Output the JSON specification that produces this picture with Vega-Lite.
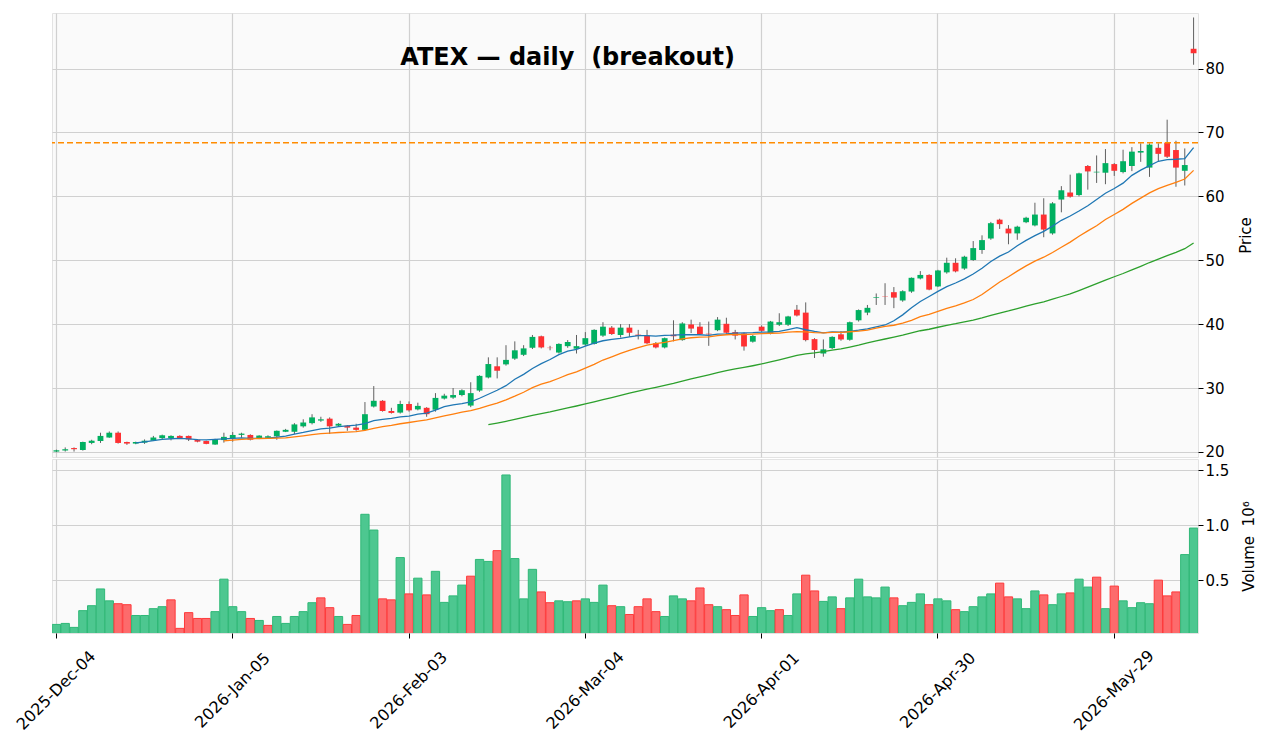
{
  "$schema": "https://vega.github.io/schema/vega-lite/v6.json",
  "padding": {"left": 13, "top": 12, "right": 4, "bottom": 4},
  "background": "white",
  "bounds": "flush",
  "data": {"values": [
    {"d":"2025-Dec-04","o":20.05,"h":20.35,"l":19.95,"c":20.25,"v":98000},
    {"d":"2025-Dec-05","o":20.2,"h":20.7,"l":20.05,"c":20.4,"v":107000},
    {"d":"2025-Dec-08","o":20.6,"h":20.7,"l":20.05,"c":20.42,"v":71000},
    {"d":"2025-Dec-09","o":20.3,"h":21.6,"l":20.2,"c":21.55,"v":223000},
    {"d":"2025-Dec-10","o":21.4,"h":21.9,"l":21.2,"c":21.75,"v":268000},
    {"d":"2025-Dec-11","o":21.7,"h":23.0,"l":21.4,"c":22.5,"v":420000},
    {"d":"2025-Dec-12","o":22.25,"h":23.2,"l":22.2,"c":23.0,"v":312000},
    {"d":"2025-Dec-15","o":23.0,"h":23.2,"l":21.3,"c":21.4,"v":286000},
    {"d":"2025-Dec-16","o":21.55,"h":21.6,"l":21.1,"c":21.3,"v":277000},
    {"d":"2025-Dec-17","o":21.3,"h":21.6,"l":21.2,"c":21.55,"v":179000},
    {"d":"2025-Dec-18","o":21.45,"h":21.95,"l":21.25,"c":21.75,"v":179000},
    {"d":"2025-Dec-19","o":21.75,"h":22.5,"l":21.7,"c":22.25,"v":241000},
    {"d":"2025-Dec-22","o":22.15,"h":22.7,"l":21.9,"c":22.6,"v":259000},
    {"d":"2025-Dec-23","o":22.15,"h":22.6,"l":21.8,"c":22.5,"v":321000},
    {"d":"2025-Dec-24","o":22.5,"h":22.6,"l":22.1,"c":22.15,"v":62000},
    {"d":"2025-Dec-26","o":22.5,"h":22.55,"l":21.7,"c":21.95,"v":205000},
    {"d":"2025-Dec-29","o":21.9,"h":22.0,"l":21.5,"c":21.6,"v":152000},
    {"d":"2025-Dec-30","o":21.7,"h":21.75,"l":21.2,"c":21.25,"v":152000},
    {"d":"2025-Dec-31","o":21.15,"h":22.05,"l":21.1,"c":22.0,"v":214000},
    {"d":"2026-Jan-02","o":21.85,"h":23.0,"l":21.45,"c":22.35,"v":509000},
    {"d":"2026-Jan-05","o":22.1,"h":23.1,"l":21.6,"c":22.65,"v":259000},
    {"d":"2026-Jan-06","o":22.66,"h":23.0,"l":22.2,"c":22.86,"v":214000},
    {"d":"2026-Jan-07","o":22.65,"h":22.75,"l":21.8,"c":21.9,"v":152000},
    {"d":"2026-Jan-08","o":22.15,"h":22.6,"l":22.0,"c":22.55,"v":134000},
    {"d":"2026-Jan-09","o":22.2,"h":22.6,"l":22.1,"c":22.45,"v":89000},
    {"d":"2026-Jan-12","o":22.45,"h":23.35,"l":21.9,"c":23.3,"v":170000},
    {"d":"2026-Jan-13","o":23.15,"h":23.6,"l":23.1,"c":23.45,"v":107000},
    {"d":"2026-Jan-14","o":23.15,"h":24.5,"l":22.8,"c":24.3,"v":170000},
    {"d":"2026-Jan-15","o":24.0,"h":25.1,"l":23.8,"c":24.6,"v":214000},
    {"d":"2026-Jan-16","o":24.5,"h":25.9,"l":24.3,"c":25.4,"v":295000},
    {"d":"2026-Jan-20","o":24.9,"h":25.5,"l":24.7,"c":25.1,"v":339000},
    {"d":"2026-Jan-21","o":25.2,"h":25.4,"l":22.8,"c":24.0,"v":250000},
    {"d":"2026-Jan-22","o":24.1,"h":24.5,"l":23.9,"c":24.4,"v":170000},
    {"d":"2026-Jan-23","o":24.1,"h":24.2,"l":23.3,"c":23.8,"v":98000},
    {"d":"2026-Jan-26","o":23.8,"h":24.4,"l":23.3,"c":23.45,"v":179000},
    {"d":"2026-Jan-27","o":23.45,"h":27.8,"l":23.3,"c":25.9,"v":1098000},
    {"d":"2026-Jan-28","o":27.1,"h":30.3,"l":26.95,"c":28.0,"v":955000},
    {"d":"2026-Jan-29","o":28.0,"h":28.1,"l":26.3,"c":26.4,"v":330000},
    {"d":"2026-Jan-30","o":26.4,"h":26.9,"l":26.0,"c":26.1,"v":321000},
    {"d":"2026-Feb-02","o":26.15,"h":28.0,"l":26.0,"c":27.5,"v":705000},
    {"d":"2026-Feb-03","o":27.5,"h":27.9,"l":26.3,"c":26.5,"v":375000},
    {"d":"2026-Feb-04","o":26.65,"h":27.7,"l":26.5,"c":27.2,"v":518000},
    {"d":"2026-Feb-05","o":26.9,"h":27.0,"l":25.5,"c":25.9,"v":366000},
    {"d":"2026-Feb-06","o":26.6,"h":29.2,"l":26.3,"c":28.45,"v":580000},
    {"d":"2026-Feb-09","o":28.35,"h":29.1,"l":28.2,"c":28.8,"v":298000},
    {"d":"2026-Feb-10","o":28.5,"h":30.0,"l":28.3,"c":28.9,"v":357000},
    {"d":"2026-Feb-11","o":28.9,"h":29.8,"l":28.7,"c":29.65,"v":455000},
    {"d":"2026-Feb-12","o":27.25,"h":30.9,"l":27.0,"c":29.2,"v":536000},
    {"d":"2026-Feb-13","o":29.6,"h":32.0,"l":29.4,"c":31.9,"v":688000},
    {"d":"2026-Feb-17","o":31.65,"h":34.8,"l":31.5,"c":33.75,"v":670000},
    {"d":"2026-Feb-18","o":33.4,"h":34.8,"l":31.5,"c":32.7,"v":768000},
    {"d":"2026-Feb-19","o":33.7,"h":36.7,"l":33.5,"c":34.4,"v":1455000},
    {"d":"2026-Feb-20","o":34.6,"h":37.3,"l":34.4,"c":35.9,"v":696000},
    {"d":"2026-Feb-23","o":35.2,"h":36.7,"l":35.0,"c":36.2,"v":330000},
    {"d":"2026-Feb-24","o":36.3,"h":38.3,"l":36.1,"c":38.0,"v":598000},
    {"d":"2026-Feb-25","o":38.1,"h":38.2,"l":36.2,"c":36.35,"v":393000},
    {"d":"2026-Feb-26","o":36.3,"h":36.6,"l":35.9,"c":36.25,"v":295000},
    {"d":"2026-Feb-27","o":35.55,"h":37.0,"l":35.4,"c":36.9,"v":312000},
    {"d":"2026-Mar-02","o":36.55,"h":37.5,"l":36.3,"c":37.2,"v":304000},
    {"d":"2026-Mar-03","o":36.15,"h":38.3,"l":35.4,"c":36.55,"v":312000},
    {"d":"2026-Mar-04","o":36.8,"h":38.75,"l":36.6,"c":37.8,"v":330000},
    {"d":"2026-Mar-05","o":36.9,"h":39.2,"l":36.8,"c":39.1,"v":298000},
    {"d":"2026-Mar-06","o":38.2,"h":40.3,"l":38.0,"c":39.6,"v":455000},
    {"d":"2026-Mar-09","o":39.45,"h":39.7,"l":38.3,"c":38.45,"v":268000},
    {"d":"2026-Mar-10","o":38.3,"h":40.0,"l":37.9,"c":39.45,"v":259000},
    {"d":"2026-Mar-11","o":39.45,"h":40.0,"l":38.0,"c":38.65,"v":188000},
    {"d":"2026-Mar-12","o":38.35,"h":39.1,"l":37.6,"c":38.15,"v":259000},
    {"d":"2026-Mar-13","o":38.2,"h":39.1,"l":36.9,"c":37.0,"v":330000},
    {"d":"2026-Mar-16","o":37.0,"h":37.2,"l":36.2,"c":36.35,"v":214000},
    {"d":"2026-Mar-17","o":36.35,"h":37.9,"l":36.2,"c":37.8,"v":170000},
    {"d":"2026-Mar-18","o":38.35,"h":40.6,"l":37.3,"c":38.1,"v":357000},
    {"d":"2026-Mar-19","o":37.5,"h":40.3,"l":37.4,"c":40.1,"v":330000},
    {"d":"2026-Mar-20","o":39.95,"h":40.7,"l":38.6,"c":39.3,"v":312000},
    {"d":"2026-Mar-23","o":39.6,"h":40.3,"l":38.3,"c":38.45,"v":429000},
    {"d":"2026-Mar-24","o":38.5,"h":40.4,"l":36.6,"c":38.4,"v":277000},
    {"d":"2026-Mar-25","o":39.05,"h":41.1,"l":38.9,"c":40.7,"v":259000},
    {"d":"2026-Mar-26","o":40.05,"h":41.0,"l":38.5,"c":38.65,"v":232000},
    {"d":"2026-Mar-27","o":38.75,"h":39.1,"l":37.6,"c":38.2,"v":179000},
    {"d":"2026-Mar-30","o":38.55,"h":38.7,"l":35.85,"c":36.5,"v":366000},
    {"d":"2026-Mar-31","o":37.25,"h":38.3,"l":37.1,"c":38.15,"v":170000},
    {"d":"2026-Apr-01","o":39.6,"h":39.8,"l":38.8,"c":38.95,"v":250000},
    {"d":"2026-Apr-02","o":38.55,"h":40.5,"l":38.4,"c":40.4,"v":223000},
    {"d":"2026-Apr-06","o":39.9,"h":41.7,"l":39.7,"c":40.3,"v":232000},
    {"d":"2026-Apr-07","o":39.9,"h":41.3,"l":39.7,"c":41.2,"v":179000},
    {"d":"2026-Apr-08","o":42.25,"h":43.0,"l":41.2,"c":41.35,"v":375000},
    {"d":"2026-Apr-09","o":41.8,"h":43.4,"l":37.3,"c":37.5,"v":545000},
    {"d":"2026-Apr-10","o":37.65,"h":37.8,"l":34.7,"c":35.95,"v":402000},
    {"d":"2026-Apr-13","o":35.4,"h":37.6,"l":34.9,"c":36.05,"v":307000},
    {"d":"2026-Apr-14","o":36.25,"h":38.1,"l":36.1,"c":38.0,"v":348000},
    {"d":"2026-Apr-15","o":38.4,"h":38.9,"l":37.4,"c":37.6,"v":241000},
    {"d":"2026-Apr-16","o":37.55,"h":40.4,"l":37.4,"c":40.3,"v":339000},
    {"d":"2026-Apr-17","o":40.6,"h":42.3,"l":40.4,"c":42.2,"v":509000},
    {"d":"2026-Apr-20","o":41.8,"h":43.0,"l":41.4,"c":42.55,"v":348000},
    {"d":"2026-Apr-21","o":44.1,"h":44.8,"l":43.0,"c":44.2,"v":339000},
    {"d":"2026-Apr-22","o":44.35,"h":46.4,"l":43.0,"c":44.3,"v":437000},
    {"d":"2026-Apr-23","o":45.0,"h":45.8,"l":42.5,"c":44.15,"v":339000},
    {"d":"2026-Apr-24","o":43.7,"h":45.3,"l":43.5,"c":45.15,"v":268000},
    {"d":"2026-Apr-27","o":45.1,"h":47.3,"l":44.9,"c":47.25,"v":298000},
    {"d":"2026-Apr-28","o":47.15,"h":48.3,"l":47.0,"c":47.7,"v":375000},
    {"d":"2026-Apr-29","o":47.7,"h":47.8,"l":45.3,"c":45.4,"v":277000},
    {"d":"2026-Apr-30","o":45.9,"h":48.5,"l":45.8,"c":48.4,"v":330000},
    {"d":"2026-May-01","o":48.1,"h":50.4,"l":47.9,"c":49.6,"v":312000},
    {"d":"2026-May-04","o":49.6,"h":50.3,"l":48.1,"c":48.25,"v":232000},
    {"d":"2026-May-05","o":48.7,"h":50.7,"l":48.5,"c":50.55,"v":214000},
    {"d":"2026-May-06","o":50.03,"h":53.0,"l":49.9,"c":51.9,"v":259000},
    {"d":"2026-May-07","o":51.6,"h":53.9,"l":51.0,"c":53.15,"v":348000},
    {"d":"2026-May-08","o":53.4,"h":56.0,"l":53.2,"c":55.8,"v":375000},
    {"d":"2026-May-11","o":56.35,"h":56.5,"l":54.9,"c":55.65,"v":473000},
    {"d":"2026-May-12","o":54.95,"h":55.5,"l":52.5,"c":54.2,"v":348000},
    {"d":"2026-May-13","o":54.2,"h":55.4,"l":53.2,"c":55.25,"v":330000},
    {"d":"2026-May-14","o":55.95,"h":56.8,"l":55.8,"c":56.65,"v":241000},
    {"d":"2026-May-15","o":55.45,"h":59.0,"l":55.3,"c":57.15,"v":402000},
    {"d":"2026-May-18","o":57.15,"h":59.7,"l":53.6,"c":54.8,"v":366000},
    {"d":"2026-May-19","o":54.2,"h":59.1,"l":54.0,"c":58.9,"v":277000},
    {"d":"2026-May-20","o":59.5,"h":61.6,"l":57.5,"c":60.95,"v":375000},
    {"d":"2026-May-21","o":60.6,"h":63.4,"l":59.8,"c":59.95,"v":384000},
    {"d":"2026-May-22","o":60.2,"h":63.7,"l":60.0,"c":63.6,"v":509000},
    {"d":"2026-May-26","o":64.75,"h":64.9,"l":61.05,"c":63.9,"v":437000},
    {"d":"2026-May-27","o":63.75,"h":66.4,"l":62.1,"c":63.85,"v":527000},
    {"d":"2026-May-28","o":63.7,"h":67.4,"l":61.9,"c":65.2,"v":241000},
    {"d":"2026-May-29","o":65.05,"h":65.2,"l":63.2,"c":64.0,"v":446000},
    {"d":"2026-Jun-01","o":63.8,"h":67.3,"l":63.6,"c":65.5,"v":312000},
    {"d":"2026-Jun-02","o":64.75,"h":67.7,"l":63.95,"c":67.0,"v":250000},
    {"d":"2026-Jun-03","o":66.85,"h":68.3,"l":65.4,"c":67.1,"v":295000},
    {"d":"2026-Jun-04","o":64.5,"h":68.3,"l":63.05,"c":68.1,"v":286000},
    {"d":"2026-Jun-05","o":67.6,"h":68.3,"l":65.4,"c":66.65,"v":500000},
    {"d":"2026-Jun-08","o":68.4,"h":72.0,"l":66.0,"c":66.2,"v":357000},
    {"d":"2026-Jun-09","o":67.25,"h":68.7,"l":61.5,"c":64.5,"v":393000},
    {"d":"2026-Jun-10","o":64.0,"h":67.5,"l":61.7,"c":64.9,"v":732000},
    {"d":"2026-Jun-11","o":83.1,"h":88.0,"l":80.6,"c":82.4,"v":973000}
  ]},
  "spacing": 2,
  "vconcat": [
    {
      "width": 1146,
      "height": 444,
      "title": {
        "text": "ATEX — daily \u00a0(breakout)",
        "anchor": "start",
        "dx": 349,
        "offset": -76,
        "baseline": "alphabetic",
        "font": "DejaVu Sans",
        "fontSize": 24,
        "fontWeight": "bold",
        "color": "#000000"
      },
      "layer": [
        {
          "mark": {"type": "rule", "color": "#606060", "strokeWidth": 1},
          "encoding": {
            "x": {"field": "d", "type": "ordinal", "sort": null,
              "scale": {"type": "band", "paddingInner": 0, "paddingOuter": 0},
              "axis": {"values": ["2025-Dec-04", "2026-Jan-05", "2026-Feb-03", "2026-Mar-04", "2026-Apr-01", "2026-Apr-30", "2026-May-29"],
                "labels": false, "ticks": false, "domain": false, "title": null, "grid": true, "minExtent": 0, "maxExtent": 0, "offset": 0}},
            "y": {"field": "l", "type": "quantitative",
              "scale": {"domain": [19.2, 88.7], "zero": false, "nice": false},
              "axis": {"orient": "right", "values": [20, 30, 40, 50, 60, 70, 80], "format": "d", "title": "Price", "titleAngle": 270, "titleBaseline": "top", "titlePadding": 14}},
            "y2": {"field": "h"}
          }
        },
        {
          "mark": {"type": "bar", "width": {"band": 0.66}},
          "encoding": {
            "x": {"field": "d", "type": "ordinal", "sort": null},
            "y": {"field": "o", "type": "quantitative"},
            "y2": {"field": "c"},
            "color": {"condition": {"test": "datum.c >= datum.o", "value": "#00b060"}, "value": "#fe3032"}
          }
        },
        {
          "transform": [
            {"window": [{"op": "mean", "field": "c", "as": "ma"}, {"op": "count", "as": "n"}], "frame": [-9, 0]},
            {"filter": "datum.n >= 10"}
          ],
          "mark": {"type": "line", "color": "#1f77b4", "strokeWidth": 1.3},
          "encoding": {
            "x": {"field": "d", "type": "ordinal", "sort": null},
            "y": {"field": "ma", "type": "quantitative"}
          }
        },
        {
          "transform": [
            {"window": [{"op": "mean", "field": "c", "as": "ma"}, {"op": "count", "as": "n"}], "frame": [-19, 0]},
            {"filter": "datum.n >= 20"}
          ],
          "mark": {"type": "line", "color": "#ff7f0e", "strokeWidth": 1.3},
          "encoding": {
            "x": {"field": "d", "type": "ordinal", "sort": null},
            "y": {"field": "ma", "type": "quantitative"}
          }
        },
        {
          "transform": [
            {"window": [{"op": "mean", "field": "c", "as": "ma"}, {"op": "count", "as": "n"}], "frame": [-49, 0]},
            {"filter": "datum.n >= 50"}
          ],
          "mark": {"type": "line", "color": "#2ca02c", "strokeWidth": 1.3},
          "encoding": {
            "x": {"field": "d", "type": "ordinal", "sort": null},
            "y": {"field": "ma", "type": "quantitative"}
          }
        },
        {
          "data": {"values": [{"level": 68.4}]},
          "mark": {"type": "rule", "color": "#ff8c00", "strokeWidth": 1.5, "strokeDash": [6, 3]},
          "encoding": {"y": {"field": "level", "type": "quantitative"}}
        }
      ]
    },
    {
      "width": 1146,
      "height": 174,
      "transform": [
        {"window": [{"op": "lag", "field": "c", "as": "pc"}]}
      ],
      "mark": {"type": "bar", "width": {"band": 0.94}, "clip": true, "strokeWidth": 1},
      "encoding": {
        "x": {"field": "d", "type": "ordinal", "sort": null,
          "scale": {"type": "band", "paddingInner": 0, "paddingOuter": 0},
          "axis": {"values": ["2025-Dec-04", "2026-Jan-05", "2026-Feb-03", "2026-Mar-04", "2026-Apr-01", "2026-Apr-30", "2026-May-29"],
            "labelAngle": -45, "labelAlign": "center", "labelBaseline": "middle", "labelPadding": 52, "labelFontSize": 16, "tickSize": 5,
            "domain": false, "title": null, "grid": true}},
        "y": {"field": "v", "type": "quantitative",
          "scale": {"domain": [20000, 1600000], "zero": false, "nice": false},
          "axis": {"orient": "right", "values": [500000, 1000000, 1500000], "labelExpr": "format(datum.value / 1000000, '.1f')", "title": "Volume \u00a010⁶", "titleAngle": 270, "titleBaseline": "top", "titlePadding": 13}},
        "color": {"condition": {"test": "datum.pc == null ? datum.c > datum.o : datum.c > datum.pc", "value": "#4dc790"}, "value": "#fd6b6c"},
        "stroke": {"condition": {"test": "datum.pc == null ? datum.c > datum.o : datum.c > datum.pc", "value": "#2fb877"}, "value": "#fe3a3b"}
      }
    }
  ],
  "config": {
    "font": "DejaVu Sans",
    "view": {"fill": "#fafafa", "stroke": "#e3e3e3"},
    "axis": {
      "gridColor": "#d0d0d0",
      "gridWidth": 1.2,
      "labelFont": "DejaVu Sans",
      "labelFontSize": 15,
      "labelColor": "#000000",
      "titleFont": "DejaVu Sans",
      "titleFontSize": 15,
      "titleFontWeight": "normal",
      "titleColor": "#000000",
      "tickColor": "#000000",
      "tickSize": 5,
      "domain": false
    }
  }
}
